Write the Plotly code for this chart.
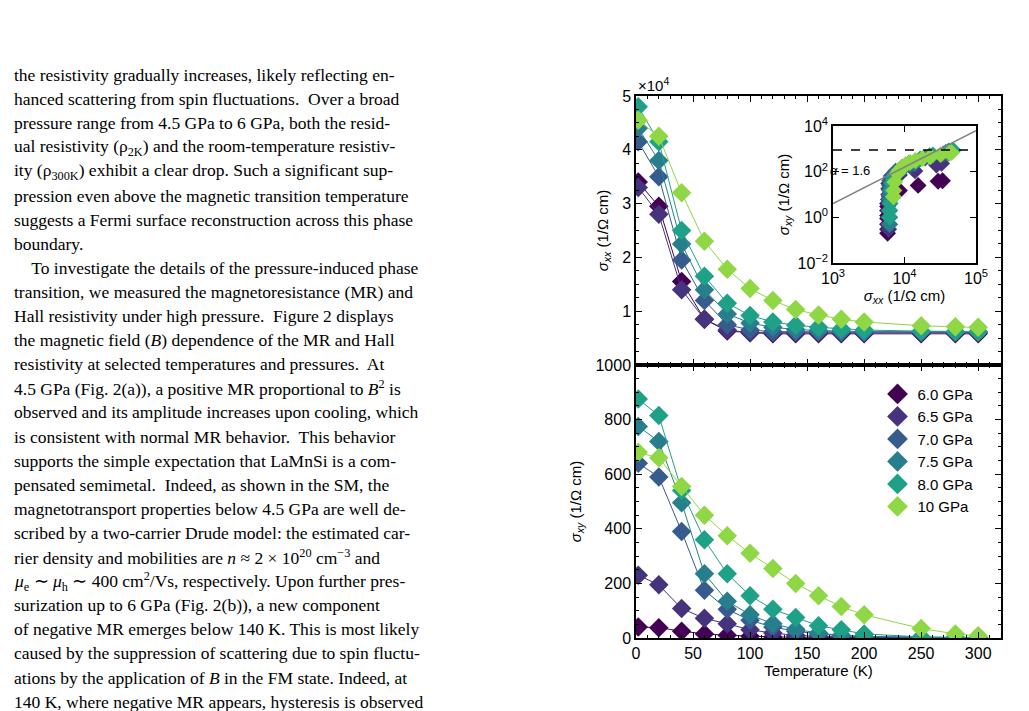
import plotly.graph_objects as go

temps = [2, 20, 40, 60, 80, 100, 120, 140, 160, 180, 200, 250, 280, 300]
pressures = ["6.0 GPa", "6.5 GPa", "7.0 GPa", "7.5 GPa", "8.0 GPa", "10 GPa"]
colors = ["#440154", "#46337e", "#365c8d", "#277f8e", "#1fa187", "#8fd744"]

sxx_60 = [3.4, 2.95, 1.55, 0.85, 0.63, 0.6, 0.58, 0.58, 0.58, 0.58, 0.58, 0.58, 0.58, 0.58]
sxx_65 = [3.3, 2.8, 1.4, 0.85, 0.65, 0.6, 0.6, 0.6, 0.6, 0.6, 0.6, 0.6, 0.6, 0.6]
sxx_70 = [4.15, 3.5, 1.95, 1.2, 0.75, 0.65, 0.62, 0.62, 0.62, 0.61, 0.61, 0.61, 0.61, 0.61]
sxx_75 = [4.4, 3.8, 2.25, 1.4, 0.95, 0.78, 0.7, 0.66, 0.64, 0.63, 0.62, 0.62, 0.62, 0.62]
sxx_80 = [4.8, 4.15, 2.5, 1.65, 1.15, 0.92, 0.8, 0.74, 0.7, 0.67, 0.65, 0.63, 0.62, 0.62]
sxx_10 = [4.55, 4.25, 3.2, 2.3, 1.78, 1.42, 1.2, 1.03, 0.93, 0.85, 0.8, 0.73, 0.71, 0.7]

sxy_60 = [40, 38, 25, 15, 10, 6, 4, 3, 2, 1.2, 0.9, 0.5, 0.3, 0.2]
sxy_65 = [230, 195, 108, 72, 52, 30, 18, 10, 6, 4, 2, 1, 0.5, 0.3]
sxy_70 = [640, 590, 390, 175, 105, 65, 40, 25, 15, 8, 5, 2, 1, 0.5]
sxy_75 = [775, 720, 495, 235, 135, 85, 52, 32, 18, 10, 6, 2, 1, 0.5]
sxy_80 = [875, 815, 540, 360, 235, 155, 105, 75, 45, 30, 15, 4, 2, 1]
sxy_10 = [680, 660, 555, 450, 375, 310, 255, 200, 155, 115, 85, 35, 15, 8]

sxx_all = [sxx_60, sxx_65, sxx_70, sxx_75, sxx_80, sxx_10]
sxy_all = [sxy_60, sxy_65, sxy_70, sxy_75, sxy_80, sxy_10]

fit_x = [1e3, 1e5]
fit_y = [4, 6300]
sat_y = 900

text_lines = [
    "the resistivity gradually increases, likely reflecting en-",
    "hanced scattering from spin fluctuations.  Over a broad",
    "pressure range from 4.5 GPa to 6 GPa, both the resid-",
    "ual resistivity (ρ<sub>2K</sub>) and the room-temperature resistiv-",
    "ity (ρ<sub>300K</sub>) exhibit a clear drop. Such a significant sup-",
    "pression even above the magnetic transition temperature",
    "suggests a Fermi surface reconstruction across this phase",
    "boundary.",
    "    To investigate the details of the pressure-induced phase",
    "transition, we measured the magnetoresistance (MR) and",
    "Hall resistivity under high pressure.  Figure 2 displays",
    "the magnetic field (<i>B</i>) dependence of the MR and Hall",
    "resistivity at selected temperatures and pressures.  At",
    "4.5 GPa (Fig. 2(a)), a positive MR proportional to <i>B</i><sup>2</sup> is",
    "observed and its amplitude increases upon cooling, which",
    "is consistent with normal MR behavior.  This behavior",
    "supports the simple expectation that LaMnSi is a com-",
    "pensated semimetal.  Indeed, as shown in the SM, the",
    "magnetotransport properties below 4.5 GPa are well de-",
    "scribed by a two-carrier Drude model: the estimated car-",
    "rier density and mobilities are <i>n</i> ≈ 2 × 10<sup>20</sup> cm<sup>−3</sup> and",
    "<i>μ</i><sub>e</sub> ∼ <i>μ</i><sub>h</sub> ∼ 400 cm<sup>2</sup>/Vs, respectively. Upon further pres-",
    "surization up to 6 GPa (Fig. 2(b)), a new component",
    "of negative MR emerges below 140 K. This is most likely",
    "caused by the suppression of scattering due to spin fluctu-",
    "ations by the application of <i>B</i> in the FM state. Indeed, at",
    "140 K, where negative MR appears, hysteresis is observed",
]

fig = go.Figure()
for i in range(6):
    fig.add_trace(go.Scatter(x=temps, y=[v * 1e4 for v in sxx_all[i]], mode="lines+markers",
                             line=dict(color=colors[i], width=1),
                             marker=dict(symbol="diamond", size=15, color=colors[i]),
                             xaxis="x", yaxis="y", showlegend=False))
for i in range(6):
    fig.add_trace(go.Scatter(x=temps, y=sxy_all[i], mode="lines+markers",
                             line=dict(color=colors[i], width=1),
                             marker=dict(symbol="diamond", size=15, color=colors[i]),
                             xaxis="x2", yaxis="y2", showlegend=False))
for i in range(6):
    fig.add_trace(go.Scatter(x=[None], y=[None], mode="markers", name=pressures[i],
                             marker=dict(symbol="diamond", size=16, color=colors[i]),
                             xaxis="x2", yaxis="y2"))
for i in range(6):
    fig.add_trace(go.Scatter(x=[v * 1e4 for v in sxx_all[i]], y=sxy_all[i], mode="markers",
                             marker=dict(symbol="diamond", size=13, color=colors[i]),
                             xaxis="x3", yaxis="y3", showlegend=False))
fig.add_trace(go.Scatter(x=fit_x, y=fit_y, mode="lines", line=dict(color="gray", width=1.5),
                         xaxis="x3", yaxis="y3", showlegend=False))
fig.add_trace(go.Scatter(x=fit_x, y=[sat_y, sat_y], mode="lines",
                         line=dict(color="black", width=1.5, dash="dash"),
                         xaxis="x3", yaxis="y3", showlegend=False))

ax = dict(showline=True, linecolor="black", linewidth=1.5, mirror="allticks", ticks="inside",
          ticklen=6, tickcolor="black", showgrid=False, zeroline=False, automargin=False,
          tickfont=dict(family="Liberation Sans", size=16, color="black"))
X0, X1 = 628 / 1029, 993 / 1029
fig.update_layout(
    width=1029, height=711, margin=dict(l=0, r=0, t=0, b=0, pad=0),
    paper_bgcolor="white", plot_bgcolor="white",
    font=dict(family="Liberation Sans", color="black"),
    xaxis=dict(ax, domain=[X0, X1], range=[0, 320], anchor="y", showticklabels=False,
               dtick=50, minor=dict(ticks="inside", ticklen=3, dtick=10, tickcolor="black")),
    yaxis=dict(ax, domain=[1 - 357 / 711, 1 - 88 / 711], range=[0, 50000], anchor="x",
               tickvals=[10000, 20000, 30000, 40000, 50000], ticktext=["1", "2", "3", "4", "5"],
               minor=dict(ticks="inside", ticklen=3, dtick=2500, tickcolor="black"),
               title=dict(text="<i>σ<sub>xx</sub></i> (1/Ω cm)", font=dict(size=15), standoff=10)),
    xaxis2=dict(ax, domain=[X0, X1], range=[0, 320], anchor="y2", dtick=50,
                minor=dict(ticks="inside", ticklen=3, dtick=10, tickcolor="black"),
                title=dict(text="Temperature (K)", font=dict(size=15), standoff=4)),
    yaxis2=dict(ax, domain=[1 - 630 / 711, 1 - 357 / 711], range=[0, 1000], anchor="x2",
                dtick=200, minor=dict(ticks="inside", ticklen=3, dtick=50, tickcolor="black"),
                title=dict(text="<i>σ<sub>xy</sub></i> (1/Ω cm)", font=dict(size=15), standoff=10)),
    xaxis3=dict(ax, domain=[825 / 1029, 968 / 1029], type="log", range=[3, 5], anchor="y3",
                tickvals=[1e3, 1e4, 1e5], ticktext=["10<sup>3</sup>", "10<sup>4</sup>", "10<sup>5</sup>"],
                title=dict(text="<i>σ<sub>xx</sub></i> (1/Ω cm)", font=dict(size=15), standoff=4)),
    yaxis3=dict(ax, domain=[1 - 255 / 711, 1 - 118 / 711], type="log", range=[-2, 4], anchor="x3",
                tickvals=[1e-2, 1, 1e2, 1e4],
                ticktext=["10<sup>−2</sup>", "10<sup>0</sup>", "10<sup>2</sup>", "10<sup>4</sup>"],
                title=dict(text="<i>σ<sub>xy</sub></i> (1/Ω cm)", font=dict(size=15), standoff=4)),
    legend=dict(x=0.845, y=0.48, xanchor="left", yanchor="top", bgcolor="rgba(0,0,0,0)",
                font=dict(family="Liberation Sans", size=15), tracegroupgap=0),
)

anns = [
    dict(x=X0, y=1 - 88 / 711, xref="paper", yref="paper", xanchor="left", yanchor="bottom",
         text="×10<sup>4</sup>", showarrow=False, font=dict(size=15)),
    dict(x=842 / 1029, y=1 - 153 / 711, xref="paper", yref="paper", xanchor="center",
         text="<i>α</i> = 1.6", showarrow=False, font=dict(size=13)),
    dict(x=1018 / 1029, y=1 - 13 / 711, xref="paper", yref="paper", xanchor="center",
         text="3", showarrow=False, font=dict(family="Liberation Serif", size=17)),
]
for k, line in enumerate(text_lines):
    anns.append(dict(x=4 / 1029, y=1 - (67 + k * 24.1) / 711, xref="paper", yref="paper",
                     xanchor="left", yanchor="middle", text=line, showarrow=False,
                     font=dict(family="Liberation Serif", size=17.5, color="black")))
fig.update_layout(annotations=anns)
fig.write_html("out.html")
